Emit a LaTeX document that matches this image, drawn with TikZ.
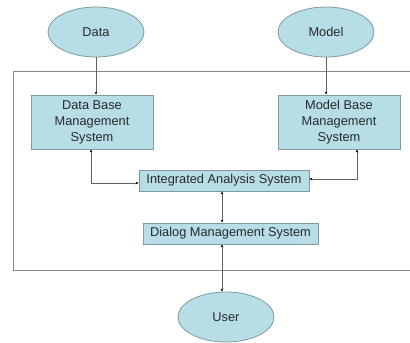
\documentclass[tikz,border=0pt]{standalone}
\usepackage{fontspec}
\setmainfont{Liberation Sans}
\usetikzlibrary{shapes.geometric,arrows.meta}
\definecolor{boxfill}{HTML}{B7DDE6}
\definecolor{boxline}{HTML}{7F9AA1}
\definecolor{frameline}{HTML}{8A8A8A}
\definecolor{txt}{HTML}{2A2A2A}
\begin{document}
\begin{tikzpicture}[x=1pt,y=-1pt,
  every node/.style={font=\fontsize{12.8}{16}\selectfont, text=txt, inner sep=0pt},
  oval/.style={ellipse, draw=boxline, fill=boxfill, line width=0.8pt, minimum width=96pt, minimum height=50pt},
  sysbox/.style={rectangle, draw=boxline, fill=boxfill, line width=0.8pt, align=center},
  tip/.style={Stealth[length=3pt,width=2.6pt,color=black]},
  conn/.style={draw=black!62, line width=0.7pt, -{Stealth[length=3pt,width=2.6pt,color=black]}},
  biconn/.style={draw=black!62, line width=0.7pt, {Stealth[length=3pt,width=2.6pt,color=black]}-{Stealth[length=3pt,width=2.6pt,color=black]}}]
\useasboundingbox (0,0) rectangle (410,343);
\fill[white] (0,0) rectangle (410,343);
\draw[frameline, line width=0.8pt] (413,71) -- (13.5,71) -- (13.5,270.5) -- (413,270.5);
\node[oval] (data) at (96,32) {Data};
\node[oval] (model) at (326,32) {Model};
\node[oval] (user) at (226,317) {User};
\node[sysbox, minimum width=122pt, minimum height=54pt] (dbms) at (92,122) {Data Base\\Management\\System};
\node[sysbox, minimum width=122pt, minimum height=54pt] (mbms) at (339,122) {Model Base\\Management\\System};
\node[sysbox, minimum width=170pt, minimum height=21pt] (ias) at (224,180.5) {Integrated Analysis System};
\node[sysbox, minimum width=175pt, minimum height=21pt] (dms) at (230.5,233.5) {Dialog Management System};
\draw[conn] (data.south) -- (data.south |- dbms.north);
\draw[conn] (model.south) -- (model.south |- mbms.north);
\draw[biconn] (dbms.south -| 91,0) |- (ias.west |- 0,183);
\draw[biconn] (mbms.south -| 357,0) |- (ias.east |- 0,179);
\draw[biconn] (ias.south -| 222,0) -- (dms.north -| 222,0);
\draw[biconn] (dms.south -| 222,0) -- (user.north -| 222,0);
\end{tikzpicture}
\end{document}
